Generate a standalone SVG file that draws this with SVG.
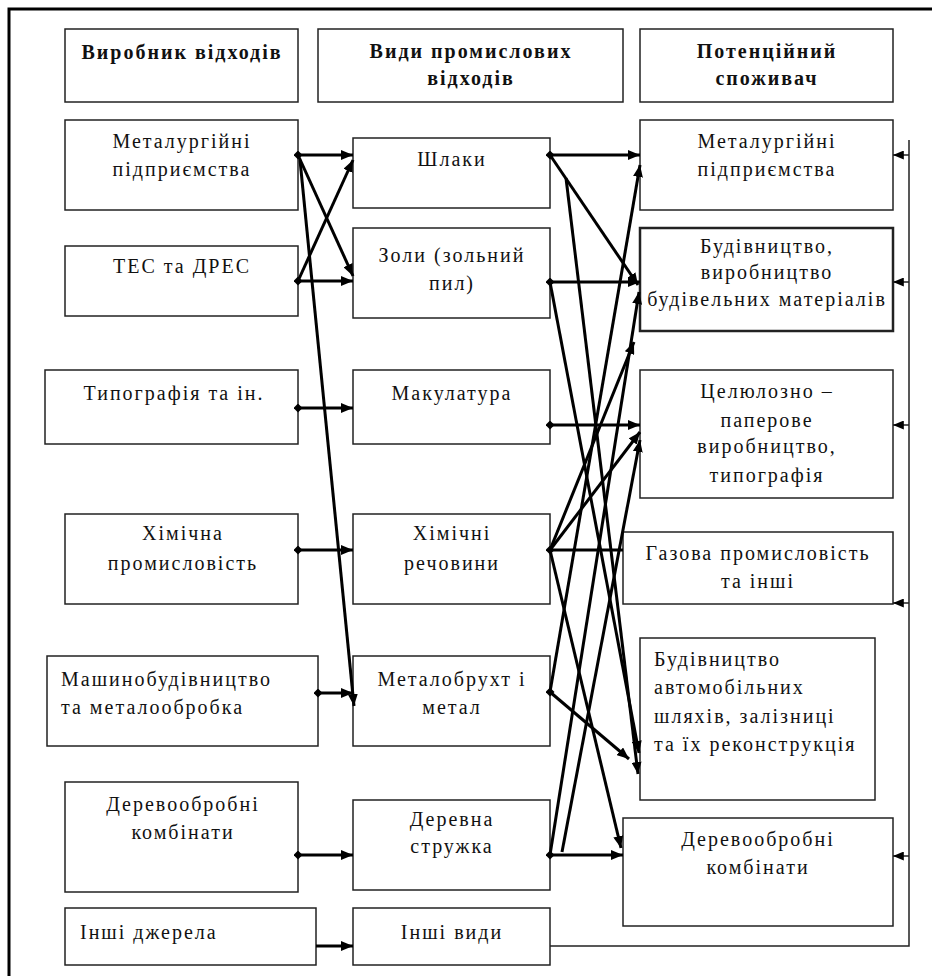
<svg xmlns="http://www.w3.org/2000/svg" width="932" height="976" viewBox="0 0 932 976">
<style>
.box{fill:#fff;stroke:#222;stroke-width:1.5}
.thick{stroke-width:2.5}
text{font-family:"Liberation Serif","Times New Roman",serif;font-size:20px;fill:#111;letter-spacing:2px}
.c{text-anchor:middle}
.h{font-weight:bold}
.con{fill:none;stroke:#000;stroke-width:3}
.fb{fill:none;stroke:#222;stroke-width:1.5}
</style>
<defs>
<marker id="arr" viewBox="0 0 12 10" refX="12" refY="5" markerWidth="12" markerHeight="10" markerUnits="userSpaceOnUse" orient="auto"><path d="M0,0 L12,5 L0,10 z" fill="#000"/></marker>
<marker id="arrs" viewBox="0 0 12 10" refX="12" refY="5" markerWidth="11" markerHeight="9" markerUnits="userSpaceOnUse" orient="auto"><path d="M0,0 L12,5 L0,10 z" fill="#000"/></marker>
<marker id="dot" viewBox="0 0 10 10" refX="5" refY="5" markerWidth="9" markerHeight="9" markerUnits="userSpaceOnUse"><path d="M0,5 L5,0 L10,5 L5,10 z" fill="#000"/></marker>
</defs>
<rect x="0" y="0" width="932" height="976" fill="#fff"/>
<rect x="9" y="9" width="950" height="990" fill="none" stroke="#000" stroke-width="3"/>

<!-- Left column -->
<g id="h-left"><rect class="box" x="65" y="29" width="233" height="73"/><text class="c h" x="182" y="59">Виробник відходів</text></g>
<g id="l-metal"><rect class="box" x="65" y="120" width="233" height="90"/><text class="c" x="182" y="148">Металургійні</text><text class="c" x="182" y="176">підприємства</text></g>
<g id="l-tes"><rect class="box" x="65" y="246" width="233" height="70"/><text class="c" x="182" y="273">ТЕС та ДРЕС</text></g>
<g id="l-typo"><rect class="box" x="45" y="370" width="253" height="74"/><text class="c" x="174" y="400">Типографія та ін.</text></g>
<g id="l-chem"><rect class="box" x="65" y="514" width="233" height="90"/><text class="c" x="183" y="540">Хімічна</text><text class="c" x="183" y="570">промисловість</text></g>
<g id="l-mach"><rect class="box" x="47" y="656" width="271" height="90"/><text x="61" y="686">Машинобудівництво</text><text x="61" y="714">та металообробка</text></g>
<g id="l-wood"><rect class="box" x="65" y="782" width="233" height="110"/><text class="c" x="183" y="811">Деревообробні</text><text class="c" x="183" y="839">комбінати</text></g>
<g id="l-other"><rect class="box" x="65" y="908" width="251" height="57"/><text x="80" y="939">Інші джерела</text></g>

<!-- Middle column -->
<g id="h-mid"><rect class="box" x="318" y="29" width="305" height="73"/><text class="c h" x="471" y="58">Види промислових</text><text class="c h" x="471" y="85">відходів</text></g>
<g id="m-slag"><rect class="box" x="353" y="138" width="197" height="70"/><text class="c" x="452" y="166">Шлаки</text></g>
<g id="m-ash"><rect class="box" x="353" y="228" width="197" height="90"/><text class="c" x="452" y="262">Золи (зольний</text><text class="c" x="452" y="290">пил)</text></g>
<g id="m-paper"><rect class="box" x="353" y="370" width="197" height="74"/><text class="c" x="452" y="400">Макулатура</text></g>
<g id="m-chem"><rect class="box" x="353" y="514" width="197" height="90"/><text class="c" x="452" y="540">Хімічні</text><text class="c" x="452" y="570">речовини</text></g>
<g id="m-scrap"><rect class="box" x="353" y="656" width="197" height="90"/><text class="c" x="452" y="686">Металобрухт і</text><text class="c" x="452" y="714">метал</text></g>
<g id="m-chips"><rect class="box" x="353" y="800" width="197" height="90"/><text class="c" x="452" y="826">Деревна</text><text class="c" x="452" y="853">стружка</text></g>
<g id="m-other"><rect class="box" x="353" y="908" width="197" height="57"/><text class="c" x="452" y="939">Інші види</text></g>

<!-- Right column -->
<g id="h-right"><rect class="box" x="640" y="29" width="253" height="73"/><text class="c h" x="767" y="58">Потенційний</text><text class="c h" x="767" y="85">споживач</text></g>
<g id="r-metal"><rect class="box" x="640" y="120" width="253" height="90"/><text class="c" x="767" y="148">Металургійні</text><text class="c" x="767" y="176">підприємства</text></g>
<g id="r-build"><rect class="box thick" x="640" y="228" width="253" height="103"/><text class="c" x="767" y="253">Будівництво,</text><text class="c" x="767" y="279">виробництво</text><text class="c" x="767" y="306">будівельних матеріалів</text></g>
<g id="r-paper"><rect class="box" x="640" y="370" width="253" height="128"/><text class="c" x="767" y="398">Целюлозно –</text><text class="c" x="767" y="427">паперове</text><text class="c" x="767" y="453">виробництво,</text><text class="c" x="767" y="482">типографія</text></g>
<g id="r-gas"><rect class="box" x="623" y="532" width="270" height="72"/><text class="c" x="758" y="560">Газова промисловість</text><text class="c" x="758" y="588">та інші</text></g>
<g id="r-road"><rect class="box" x="640" y="638" width="235" height="162"/><text x="654" y="666">Будівництво</text><text x="654" y="694">автомобільних</text><text x="654" y="723">шляхів, залізниці</text><text x="654" y="751">та їх реконструкція</text></g>
<g id="r-wood"><rect class="box" x="623" y="818" width="270" height="108"/><text class="c" x="758" y="846">Деревообробні</text><text class="c" x="758" y="874">комбінати</text></g>

<!-- Connectors -->
<g id="connectors">
<!-- left to middle -->
<line class="con" x1="298" y1="155" x2="353" y2="155" marker-start="url(#dot)" marker-end="url(#arr)"/>
<line class="con" x1="298" y1="155" x2="353" y2="276" marker-end="url(#arr)"/>
<line class="con" x1="300" y1="160" x2="354" y2="706" marker-end="url(#arr)"/>
<line class="con" x1="298" y1="281" x2="353" y2="281" marker-start="url(#dot)" marker-end="url(#arr)"/>
<line class="con" x1="298" y1="281" x2="353" y2="160" marker-end="url(#arr)"/>
<line class="con" x1="298" y1="408" x2="353" y2="408" marker-start="url(#dot)" marker-end="url(#arr)"/>
<line class="con" x1="298" y1="550" x2="353" y2="550" marker-start="url(#dot)" marker-end="url(#arr)"/>
<line class="con" x1="318" y1="693" x2="353" y2="693" marker-start="url(#dot)" marker-end="url(#arr)"/>
<line class="con" x1="298" y1="855" x2="353" y2="855" marker-start="url(#dot)" marker-end="url(#arr)"/>
<line class="con" x1="316" y1="946" x2="353" y2="946" marker-end="url(#arr)"/>
<!-- middle to right -->
<line class="con" x1="550" y1="155" x2="640" y2="155" marker-start="url(#dot)" marker-end="url(#arr)"/>
<line class="con" x1="550" y1="155" x2="638" y2="285" marker-end="url(#arr)"/>
<line class="con" x1="566" y1="178" x2="638" y2="774" marker-end="url(#arr)"/>
<line class="con" x1="550" y1="282" x2="640" y2="282" marker-start="url(#dot)" marker-end="url(#arr)"/>
<line class="con" x1="550" y1="282" x2="639" y2="753" marker-end="url(#arr)"/>
<line class="con" x1="550" y1="425" x2="640" y2="425" marker-start="url(#dot)" marker-end="url(#arr)"/>
<line class="con" x1="550" y1="550" x2="623" y2="550" marker-start="url(#dot)"/>
<line class="con" x1="550" y1="550" x2="640" y2="432" marker-end="url(#arr)"/>
<line class="con" x1="550" y1="550" x2="634" y2="342" marker-end="url(#arr)"/>
<line class="con" x1="550" y1="550" x2="621" y2="848" marker-end="url(#arr)"/>
<line class="con" x1="550" y1="692" x2="640" y2="165" marker-start="url(#dot)" marker-end="url(#arr)"/>
<line class="con" x1="550" y1="692" x2="629" y2="759" marker-end="url(#arr)"/>
<line class="con" x1="550" y1="855" x2="623" y2="855" marker-start="url(#dot)" marker-end="url(#arr)"/>
<line class="con" x1="550" y1="855" x2="639" y2="292" marker-end="url(#arr)"/>
<line class="con" x1="562" y1="852" x2="640" y2="440" marker-end="url(#arr)"/>
<!-- feedback line -->
<polyline class="fb" points="550,946 909,946 909,140"/>
<line class="fb" x1="909" y1="155" x2="893" y2="155" marker-end="url(#arrs)"/>
<line class="fb" x1="909" y1="282" x2="893" y2="282" marker-end="url(#arrs)"/>
<line class="fb" x1="909" y1="425" x2="893" y2="425" marker-end="url(#arrs)"/>
<line class="fb" x1="909" y1="603" x2="893" y2="603" marker-end="url(#arrs)"/>
<line class="fb" x1="909" y1="856" x2="893" y2="856" marker-end="url(#arrs)"/>
</g>
</svg>
